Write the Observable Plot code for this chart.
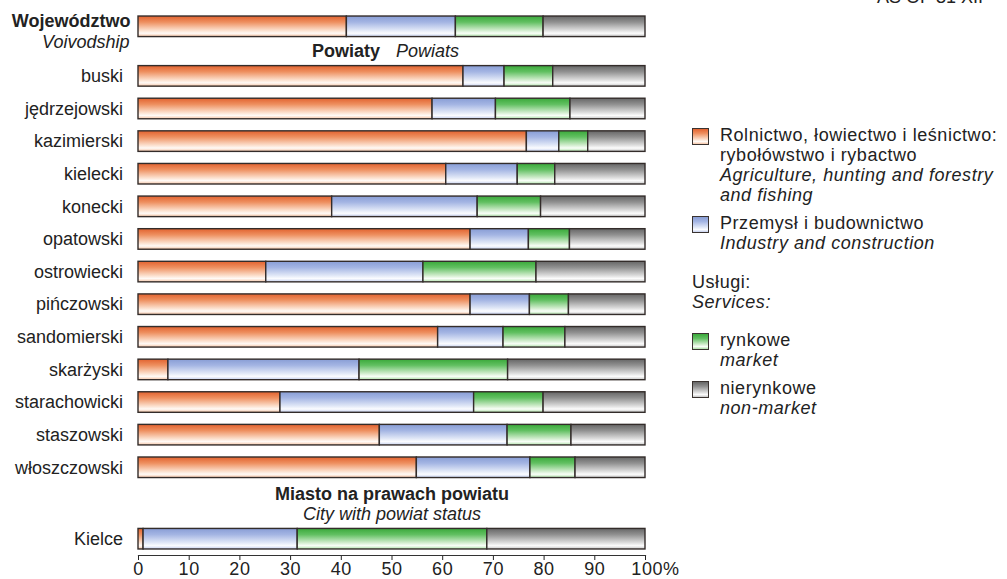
<!DOCTYPE html>
<html>
<head>
<meta charset="utf-8">
<script src="https://cdn.jsdelivr.net/npm/d3@7"></script>
<script src="https://cdn.jsdelivr.net/npm/@observablehq/plot@0.6"></script>
<style>
  html, body { margin: 0; padding: 0; background: #fff; }
  body { font-family: "Liberation Sans", Arial, sans-serif; color: #222; }
  #wrap { position: relative; width: 1007px; height: 579px; overflow: hidden; }
  #stamp { position: absolute; right: 24px; top: -12px; font-size: 18px; line-height: 18px; color: #222; white-space: nowrap; }
  #legend { position: absolute; left: 692px; top: 125px; font-size: 18px; line-height: 20px; letter-spacing: 0.55px; color: #222; }
  #legend .item { position: relative; padding-left: 28px; margin-bottom: 8px; white-space: nowrap; }
  #legend .sw { position: absolute; left: 0; top: 3px; width: 15px; height: 15px; border: 1px solid #3a3330; box-sizing: content-box; }
  #legend .head { margin-top: 19px; margin-bottom: 18px; white-space: nowrap; }
  #legend i { font-style: italic; }
  #chart { position: absolute; left: 0; top: 0; }
</style>
</head>
<body>
<div id="wrap">
  <div id="stamp">AS OF 31 XII</div>
  <div id="chart"></div>
  <div id="legend"></div>
</div>
<script>
// ---- data ----
const voivodship = ["Województwo"];
const powiats = ["buski", "jędrzejowski", "kazimierski", "kielecki", "konecki", "opatowski",
  "ostrowiecki", "pińczowski", "sandomierski", "skarżyski", "starachowicki", "staszowski", "włoszczowski"];
const cities = ["Kielce"];

// shares in % (order: voivodship, powiats, cities)
const agriculture = [41.1, 64.1, 58.0, 76.6, 60.7, 38.2, 65.5, 25.2, 65.5, 59.1, 5.9, 28.0, 47.6, 54.9, 1.0];
const industry    = [21.5,  8.1, 12.5,  6.4, 14.1, 28.7, 11.5, 31.0, 11.7, 12.9, 37.7, 38.2, 25.2, 22.4, 30.4];
const market      = [17.3,  9.6, 14.7,  5.7,  7.4, 12.5,  8.1, 22.3,  7.7, 12.2, 29.3, 13.7, 12.6,  8.9, 37.4];
const nonMarket   = [20.1, 18.2, 14.8, 11.3, 17.8, 20.6, 14.9, 21.5, 15.1, 15.8, 27.1, 20.1, 14.6, 13.8, 31.2];

const seriesKeys = ["agriculture", "industry", "market", "nonMarket"];
const seriesPL = ["Rolnictwo, łowiectwo i leśnictwo:\nrybołówstwo i rybactwo", "Przemysł i budownictwo", "rynkowe", "nierynkowe"];
const seriesEN = ["Agriculture, hunting and forestry\nand fishing", "Industry and construction", "market", "non-market"];
const servicesPL = "Usługi:";
const servicesEN = "Services:";

const voivodshipEN = "Voivodship";
const powiatHeaderPL = "Powiaty";
const powiatHeaderEN = "Powiats";
const cityHeaderPL = "Miasto na prawach powiatu";
const cityHeaderEN = "City with powiat status";

const xTicks = [0, 10, 20, 30, 40, 50, 60, 70, 80, 90, 100];

// ---- styling ----
const gradients = {
  agriculture: ["#e2622f", "#ee9060", "#fbdcc8", "#fffaf6", "#f5c3a4"],
  industry:    ["#889dd5", "#a4b5e3", "#dfe6f6", "#fbfcff", "#c4cfee"],
  market:      ["#3aa93a", "#62c062", "#cdebc9", "#f9fff8", "#ace0a6"],
  nonMarket:   ["#666666", "#919191", "#dadada", "#fcfcfc", "#c6c6c6"]
};
const gradStops = [0, 0.3, 0.68, 0.84, 1];

// ---- layout of rows (group gaps in row units) ----
const TOP_GAP = 1.52, CITY_GAP = 2.19, HALF = 0.315;
const units = [...voivodship, ...powiats, ...cities];
const pos = new Map();
voivodship.forEach((u, i) => pos.set(u, i));
const p0 = voivodship.length - 1 + TOP_GAP;
powiats.forEach((u, i) => pos.set(u, p0 + i));
const c0 = p0 + powiats.length - 1 + CITY_GAP;
cities.forEach((u, i) => pos.set(u, c0 + i));
const lastPos = c0 + cities.length - 1;

const seriesValues = {agriculture, industry, market, nonMarket};
const rows = [];
units.forEach((u, i) => {
  let acc = 0;
  seriesKeys.forEach(k => {
    const v = seriesValues[k][i];
    rows.push({unit: u, series: k, x1: acc, x2: acc + v});
    acc += v;
  });
});

const headerPowiatY = (pos.get(voivodship[0]) + pos.get(powiats[0])) / 2;
const headerCityY = (pos.get(powiats[powiats.length - 1]) + pos.get(cities[0])) / 2;

const chart = Plot.plot({
  width: 1007,
  height: 579,
  marginLeft: 138,
  marginRight: 362,
  marginTop: 0,
  marginBottom: 24,
  style: {fontFamily: "'Liberation Sans', Arial, sans-serif", fontSize: "18px", color: "#222", background: "transparent"},
  x: {domain: [0, 100], ticks: xTicks, tickFormat: d => d === 100 ? "100%" : String(d), tickSize: 5, tickPadding: 2, label: null},
  y: {domain: [0, lastPos], range: [26.3, 538.7], axis: null},
  color: {domain: seriesKeys, range: seriesKeys.map(k => `url(#grad-${k})`)},
  marks: [
    Plot.rectX(rows, {
      x1: "x1", x2: "x2",
      y1: d => pos.get(d.unit) - HALF,
      y2: d => pos.get(d.unit) + HALF,
      fill: "series",
      stroke: "#332c2a",
      strokeWidth: 1.4
    }),
    Plot.frame({anchor: "bottom", stroke: "#333", strokeWidth: 1.2}),
    // voivodship label
    Plot.text(voivodship, {x: 0, y: d => pos.get(d), text: d => d, textAnchor: "end", dx: -8, dy: -6, fontWeight: "bold", fill: "#222"}),
    Plot.text(voivodship, {x: 0, y: d => pos.get(d), text: () => voivodshipEN, textAnchor: "end", dx: -9, dy: 15.5, fontStyle: "italic", fill: "#222"}),
    // powiats and city labels
    Plot.text([...powiats, ...cities], {x: 0, y: d => pos.get(d), text: d => d, textAnchor: "end", dx: -15.5, fill: "#222"}),
    // headers
    Plot.text([powiatHeaderPL], {x: 50, y: () => headerPowiatY, text: d => d, textAnchor: "end", dx: -12, fontWeight: "bold", fill: "#222"}),
    Plot.text([powiatHeaderEN], {x: 50, y: () => headerPowiatY, text: d => d, textAnchor: "start", dx: 4, fontStyle: "italic", fill: "#222"}),
    Plot.text([cityHeaderPL], {x: 50, y: () => headerCityY, text: d => d, dy: -9.5, fontWeight: "bold", fill: "#222"}),
    Plot.text([cityHeaderEN], {x: 50, y: () => headerCityY, text: d => d, dy: 10.5, fontStyle: "italic", fill: "#222"})
  ]
});

// gradient defs
const svgEl = chart.tagName.toLowerCase() === "svg" ? chart : chart.querySelector("svg");
const svgSel = d3.select(svgEl);
const defs = svgSel.insert("defs", ":first-child");
seriesKeys.forEach(k => {
  const g = defs.append("linearGradient").attr("id", `grad-${k}`).attr("x1", 0).attr("y1", 0).attr("x2", 0).attr("y2", 1);
  gradients[k].forEach((c, i) => g.append("stop").attr("offset", gradStops[i]).attr("stop-color", c));
});
// x tick labels: slightly wider spacing; "100" centred on its tick with "%" trailing
svgSel.selectAll("[aria-label='x-axis tick label'] text").each(function() {
  const t = d3.select(this);
  t.style("letter-spacing", "0.6px");
  if (t.text() === "100%") t.attr("dx", 10);
});
document.getElementById("chart").appendChild(chart);

// legend
const cssGrad = k => `linear-gradient(to bottom, ${gradients[k].map((c, i) => `${c} ${gradStops[i] * 100}%`).join(", ")})`;
const legend = d3.select("#legend");
const addItem = i => {
  const it = legend.append("div").attr("class", "item");
  it.append("span").attr("class", "sw").style("background", cssGrad(seriesKeys[i]));
  const t = it.append("div");
  seriesPL[i].split("\n").forEach(l => t.append("div").text(l));
  seriesEN[i].split("\n").forEach(l => t.append("div").append("i").text(l));
};
addItem(0);
addItem(1);
const head = legend.append("div").attr("class", "head");
head.append("div").text(servicesPL);
head.append("div").append("i").text(servicesEN);
addItem(2);
addItem(3);
</script>
</body>
</html>
